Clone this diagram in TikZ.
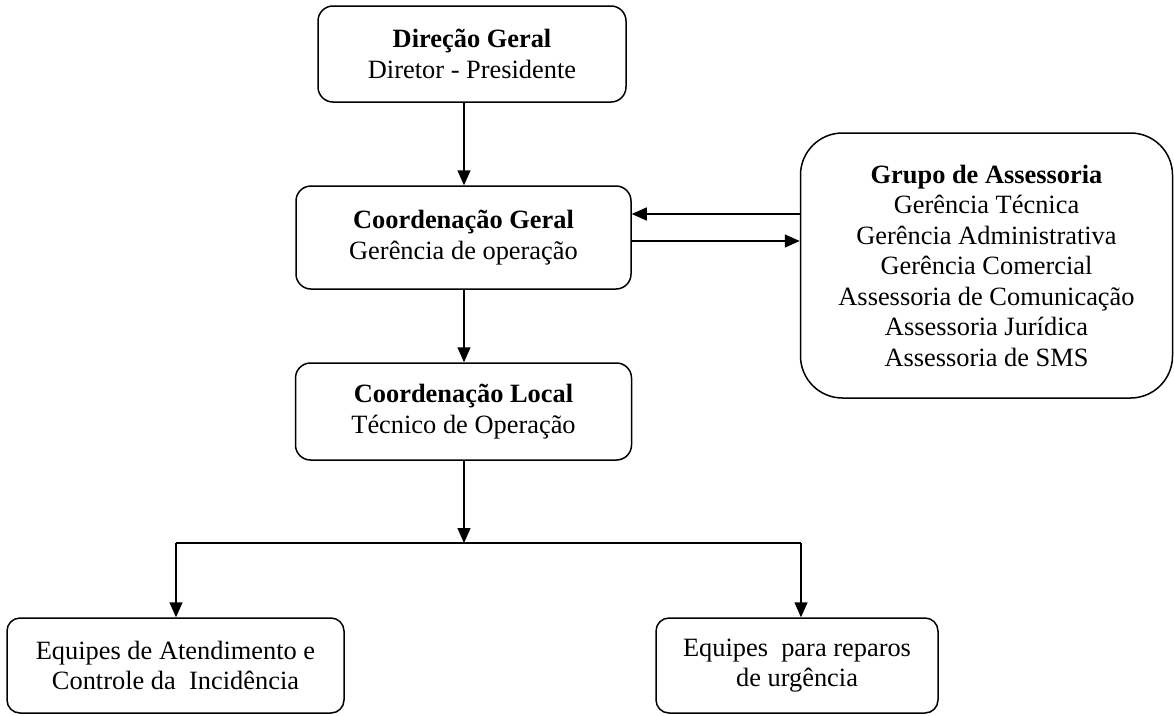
\documentclass[tikz,border=0pt]{standalone}
\usepackage{fontspec}
\setmainfont{Liberation Serif}
\usetikzlibrary{arrows.meta}
\begin{document}
\begin{tikzpicture}[x=1pt,y=-1pt,
  box/.style={draw, line width=1.5pt, rounded corners=15pt, align=center, inner sep=0pt,
    font=\fontsize{26.4}{30.5}\selectfont},
  conn/.style={line width=1.5pt, -{Triangle[length=15pt,width=13pt]}},
  plain/.style={line width=1.5pt}]
\useasboundingbox (0,0) rectangle (1174,715);
\node[box, minimum width=308pt, minimum height=96pt] (dg) at (472,54)
  {\textbf{Direção Geral}\\Diretor - Presidente};
\node[box, minimum width=335pt, minimum height=103pt] (cg) at (463.5,237.5)
  {\textbf{Coordenação Geral}\\Gerência de operação};
\node[box, minimum width=336pt, minimum height=97pt] (cl) at (463.5,411.5)
  {\textbf{Coordenação Local}\\Técnico de Operação};
\node[box, rounded corners=42pt, minimum width=372pt, minimum height=265pt] (ga) at (986.5,265.5)
  {\textbf{Grupo de Assessoria}\\Gerência Técnica\\Gerência Administrativa\\Gerência Comercial\\Assessoria de Comunicação\\Assessoria Jurídica\\Assessoria de SMS};
\node[box, rounded corners=13pt, minimum width=337pt, minimum height=95pt] (ea) at (175.5,665.5)
  {Equipes de Atendimento e\\Controle da\ \ Incidência};
\node[box, rounded corners=13pt, minimum width=282pt, minimum height=95pt] (er) at (797,665.5)
  {Equipes\ \ para reparos\\de urgência};
\coordinate (j) at (464,543);
\coordinate (jl) at (176,543);
\coordinate (jr) at (801,543);
\coordinate (t1) at (464,0);
\draw[conn] (t1 |- dg.south) -- (t1 |- cg.north);
\draw[conn] (t1 |- cg.south) -- (t1 |- cl.north);
\draw[conn] (t1 |- cl.south) -- (j);
\draw[plain] (jl) -- (jr);
\draw[conn] (jl) -- (jl |- ea.north);
\draw[conn] (jr) -- (jr |- er.north);
\coordinate (a1) at (0,214);
\coordinate (a2) at (0,241);
\draw[conn] (ga.west |- a1) -- (cg.east |- a1);
\draw[conn] (cg.east |- a2) -- (ga.west |- a2);
\end{tikzpicture}
\end{document}
